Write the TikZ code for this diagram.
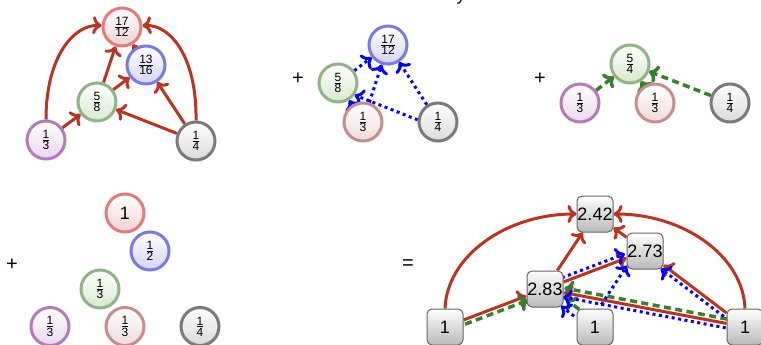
\documentclass[tikz,border=0pt]{standalone}
\usepackage{amsmath}
\usepackage{fontspec}
\setmainfont{Liberation Sans}
\usetikzlibrary{arrows.meta}

\definecolor{edgered}{RGB}{187,51,33}
\definecolor{edgeblue}{RGB}{0,0,255}
\definecolor{edgegreen}{RGB}{56,128,44}
\definecolor{rimred}{RGB}{226,124,124}
\definecolor{fillred}{RGB}{244,210,210}
\definecolor{rimblue}{RGB}{122,122,226}
\definecolor{fillblue}{RGB}{212,212,246}
\definecolor{rimgreen}{RGB}{146,178,136}
\definecolor{fillgreen}{RGB}{214,234,206}
\definecolor{rimpurple}{RGB}{178,124,184}
\definecolor{fillpurple}{RGB}{234,216,238}
\definecolor{rimgray}{RGB}{122,122,122}
\definecolor{fillgray}{RGB}{218,218,218}
\definecolor{rimrose}{RGB}{196,142,142}
\definecolor{fillrose}{RGB}{238,220,220}
\definecolor{boxrim}{RGB}{100,100,100}
\definecolor{boxfill}{RGB}{184,184,184}

% fraction with upright sans digits at a fixed size
\newcommand{\fracdigits}[1]{\hbox{\fontsize{12}{12}\selectfont #1}}
\newcommand{\fr}[2]{$\genfrac{}{}{0.8pt}{1}{\fracdigits{#1}}{\fracdigits{#2}}$}

\pgfdeclarelayer{edges}
\pgfsetlayers{edges,main}

\tikzset{
  val/.style 2 args={circle, minimum size=38pt, inner sep=0pt, line width=3pt,
    draw=#1, top color=white, bottom color=#2, font=\fontsize{12}{12}\selectfont},
  vred/.style={val={rimred}{fillred}},
  vblue/.style={val={rimblue}{fillblue}},
  vgreen/.style={val={rimgreen}{fillgreen}},
  vpurple/.style={val={rimpurple}{fillpurple}},
  vgray/.style={val={rimgray}{fillgray}},
  vrose/.style={val={rimrose}{fillrose}},
  bigval/.style={font=\fontsize{18}{18}\selectfont},
  sumbox/.style={rectangle, rounded corners=5pt, draw=boxrim, line width=1pt,
    top color=white, bottom color=boxfill, minimum size=36pt, inner sep=0pt,
    font=\fontsize{18}{18}\selectfont},
  sign/.style={font=\fontsize{20}{20}\selectfont, inner sep=0pt},
  tip/.style={-{Computer Modern Rightarrow[length=9pt,width=18pt]}},
  redarc/.style={draw=edgered, line width=3pt, tip},
  bluearc/.style={draw=edgeblue, line width=3pt, dash pattern=on 3pt off 3.5pt, tip},
  greenarc/.style={draw=edgegreen, line width=3.5pt, dash pattern=on 7pt off 4.5pt, tip},
  offset/.style={transform canvas={shift={#1}}},
}

\begin{document}
\begin{tikzpicture}[x=1pt,y=-1pt]
\useasboundingbox (0,0) rectangle (761,345);

% heading letter running off the top edge
\node[font=\fontsize{18}{18}\selectfont, anchor=base, inner sep=0pt] (head) at (461,0.5) {y};

% ---------- first summand ----------
\node[vred] (a17) at (122,27) {\fr{17}{12}};
\node[vblue] (a1316) at (146,65) {\fr{13}{16}};
\node[vgreen] (a58) at (97,102) {\fr{5}{8}};
\node[vpurple] (a13) at (46,140) {\fr{1}{3}};
\node[vgray] (a14) at (196,141) {\fr{1}{4}};

% ---------- second summand ----------
\node[sign] (plus1) at (298,79) {+};
\node[vblue] (b17) at (388,45) {\fr{17}{12}};
\node[vgreen] (b58) at (338,83) {\fr{5}{8}};
\node[vrose] (b13) at (363,122) {\fr{1}{3}};
\node[vgray] (b14) at (438,122) {\fr{1}{4}};

% ---------- third summand ----------
\node[sign] (plus2) at (540,79) {+};
\node[vgreen] (c54) at (630,64) {\fr{5}{4}};
\node[vpurple] (c13p) at (580,103) {\fr{1}{3}};
\node[vrose] (c13r) at (655,103) {\fr{1}{3}};
\node[vgray] (c14) at (730,103) {\fr{1}{4}};

% ---------- fourth summand ----------
\node[sign] (plus3) at (12,265) {+};
\node[vred,bigval] (d1) at (125,213) {1};
\node[vblue] (d12) at (150,251) {\fr{1}{2}};
\node[vgreen] (d13g) at (100,289) {\fr{1}{3}};
\node[vpurple] (d13p) at (50,326.5) {\fr{1}{3}};
\node[vrose] (d13r) at (125,326.5) {\fr{1}{3}};
\node[vgray] (d14) at (200,326.5) {\fr{1}{4}};

% ---------- result ----------
\node[sign] (equals) at (408,265) {=};
\node[sumbox] (eA) at (595,214) {2.42};
\node[sumbox] (eB) at (645,251) {2.73};
\node[sumbox] (eC) at (545,289) {2.83};
\node[sumbox] (eL) at (445,327) {1};
\node[sumbox] (eM) at (595,327) {1};
\node[sumbox] (eR) at (745,327) {1};

\begin{pgfonlayer}{edges}
  % first summand: solid red
  \draw[redarc] (a13.north) .. controls (46,55) and (75,24) .. (a17);
  \draw[redarc] (a14.north) .. controls (197,55) and (169,24) .. (a17);
  \draw[redarc] (a13) -- (a58);
  \draw[redarc] (a58) -- (a17);
  \draw[redarc] (a58) -- (a1316);
  \draw[redarc] (a14) -- (a58);
  \draw[redarc] (a14) -- (a1316);
  \draw[redarc] (a1316) -- (a17);

  % second summand: dotted blue
  \draw[bluearc] (b58) -- (b17);
  \draw[bluearc] (b13) -- (b17);
  \draw[bluearc] (b14) -- (b17);
  \draw[bluearc] (b14.174) -- (b58.-36);
  \draw[bluearc] (b13) -- (b58);

  % third summand: dashed green
  \draw[greenarc] (c13p) -- (c54);
  \draw[greenarc] (c13r) -- (c54);
  \draw[greenarc] (c14) -- (c54);

  % result: all three edge kinds together
  \draw[redarc] (eL.north) .. controls (447,256) and (506,214) .. (eA);
  \draw[redarc] (eR.north) .. controls (743,256) and (684,214) .. (eA);
  \draw[redarc] (eL) -- (eC);
  \draw[redarc] (eC) -- (eA);
  \draw[redarc] (eC) -- (eB);
  \draw[redarc] (eR) -- (eC);
  \draw[redarc] (eR) -- (eB);
  \draw[redarc] (eB) -- (eA);

  \draw[greenarc, offset={(1.6,4.2)}] (eL) -- (eC);
  \draw[greenarc, offset={(2.7,-3.6)}] (eM) -- (eC);
  \draw[greenarc, offset={(0.8,-4.4)}] (eR) -- (eC);

  \draw[bluearc, offset={(-1.6,-4.2)}] (eC) -- (eB);
  \draw[bluearc, offset={(-5.8,-3.9)}] (eM) -- (eB);
  \draw[bluearc, offset={(-2.4,3.2)}] (eM) -- (eC);
  \draw[bluearc, offset={(-0.8,4.4)}] (eR) -- (eC);
  \draw[bluearc, offset={(-2.7,3.6)}] (eR) -- (eB);
\end{pgfonlayer}
\end{tikzpicture}
\end{document}
